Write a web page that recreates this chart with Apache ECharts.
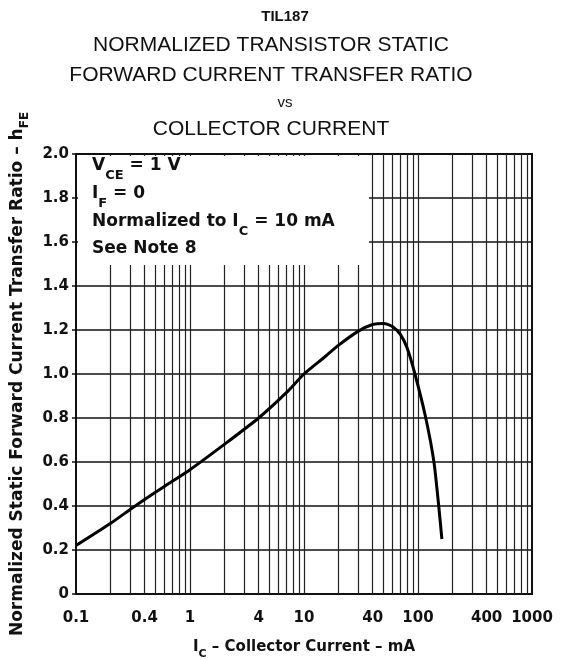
<!DOCTYPE html>
<html><head><meta charset="utf-8">
<script src="https://cdn.jsdelivr.net/npm/echarts@6/dist/echarts.min.js"></script>
<style>html,body{margin:0;padding:0;background:#fff}#c{width:564px;height:660px}</style>
</head><body><div id="c"></div>
<script>
// Collector current (mA) and normalized hFE
const collectorCurrent = [0.1, 0.2, 0.3, 0.4, 0.6, 1, 2, 4, 7, 10, 15, 20, 30, 40, 50, 60, 70, 80, 94, 117, 138, 152, 162];
const normalizedHFE   = [0.22, 0.32, 0.385, 0.43, 0.49, 0.565, 0.68, 0.80, 0.915, 1.00, 1.075, 1.13, 1.195, 1.225, 1.23, 1.215, 1.18, 1.12, 1.00, 0.80, 0.60, 0.40, 0.25];
// Axis tick labels
const xTickLabels = [0.1, 0.4, 1, 4, 10, 40, 100, 400, 1000];
const yTickValues = [0, 0.2, 0.4, 0.6, 0.8, 1.0, 1.2, 1.4, 1.6, 1.8, 2.0];
// Log grid lines (vertical)
const xGridLines = [0.2,0.3,0.4,0.5,0.6,0.7,0.8,0.9,1,2,3,4,5,6,7,8,9,10,20,30,40,50,60,70,80,90,100,200,300,400,500,600,700,800,900];
// Text
const titleLines = ['NORMALIZED TRANSISTOR STATIC', 'FORWARD CURRENT TRANSFER RATIO'];
const noteLines = ['V_CE = 1 V', 'I_F = 0', 'Normalized to I_C = 10 mA', 'See Note 8'];

const FONT = '"Liberation Sans", Arial, sans-serif';
const WIDE = '"DejaVu Sans", sans-serif';
const chart = echarts.init(document.getElementById('c'), null, {renderer: 'canvas'});

const curve = collectorCurrent.map((x, i) => [x, normalizedHFE[i]]);

const sub = {fontFamily: WIDE, fontSize: 11, fontWeight: 'bold', color: '#111', verticalAlign: 'bottom', padding: [0,0,-5,0]};
const subY = {fontFamily: WIDE, fontSize: 12, fontWeight: 'bold', color: '#111', verticalAlign: 'bottom', padding: [0,0,-5,0]};
const boxM = {fontFamily: WIDE, fontSize: 17, fontWeight: 'bold', fill: '#111'};
const boxS = {fontFamily: WIDE, fontSize: 13, fontWeight: 'bold', fill: '#111', padding: [0,0,-8,0], verticalAlign: 'bottom'};

const option = {
  backgroundColor: '#fff',
  animation: false,
  title: [
    {text: 'TIL187', left: 280, top: 4, textAlign: 'center',
     textStyle: {fontFamily: FONT, fontSize: 15, fontWeight: 'bold', color: '#111'}},
    {text: titleLines[0], left: 266, top: 30, textAlign: 'center',
     textStyle: {fontFamily: FONT, fontSize: 21, fontWeight: 'normal', color: '#111'}},
    {text: titleLines[1], left: 266, top: 60, textAlign: 'center',
     textStyle: {fontFamily: FONT, fontSize: 21, fontWeight: 'normal', color: '#111'}},
    {text: 'vs', left: 280, top: 90, textAlign: 'center',
     textStyle: {fontFamily: FONT, fontSize: 15, fontWeight: 'normal', color: '#111'}},
    {text: 'COLLECTOR CURRENT', left: 266, top: 114, textAlign: 'center',
     textStyle: {fontFamily: FONT, fontSize: 21, fontWeight: 'normal', color: '#111'}}
  ],
  grid: {left: 76, right: 32, top: 154, bottom: 66, outerBoundsMode: 'none', containLabel: false,
         show: true, borderColor: '#111', borderWidth: 2, backgroundColor: 'transparent'},
  xAxis: {
    type: 'log', logBase: 10, min: 0.1, max: 1000,
    axisLine: {show: true, lineStyle: {color: '#111', width: 2}},
    axisTick: {show: false},
    splitLine: {show: false},
    minorTick: {show: false},
    axisLabel: {
      customValues: xTickLabels,
      fontFamily: WIDE, fontSize: 15, fontWeight: 'bold', color: '#111', margin: 17,
      formatter: v => String(+(+v).toPrecision(6))
    },
    name: '{m|I}{s|C}{m| – Collector Current – mA}',
    nameLocation: 'middle', nameGap: 46,
    nameTextStyle: {rich: {m: {fontFamily: WIDE, fontSize: 15, fontWeight: 'bold', color: '#111'}, s: sub}}
  },
  yAxis: {
    type: 'value', min: 0, max: 2, interval: 0.2,
    axisLine: {show: true, lineStyle: {color: '#111', width: 2}},
    axisTick: {show: true, length: 4, lineStyle: {color: '#111', width: 1.5}},
    splitLine: {show: true, lineStyle: {color: '#111', width: 1.6}},
    axisLabel: {
      fontFamily: WIDE, fontSize: 15, fontWeight: 'bold', color: '#111', margin: 7,
      formatter: v => (v === 0 ? '0' : v.toFixed(1))
    },
    name: '{m|Normalized Static Forward Current Transfer Ratio – h}{s|FE}',
    nameLocation: 'middle', nameGap: 50, nameRotate: 90,
    nameTextStyle: {rich: {m: {fontFamily: WIDE, fontSize: 17, fontWeight: 'bold', color: '#111'}, s: subY}}
  },
  graphic: [
    {type: 'rect', z: 100, shape: {x: 78, y: 156, width: 291, height: 109}, style: {fill: '#fff'}},
    {type: 'text', z: 101, left: 92, top: 157, style: {
      text: '{m|V}{s|CE}{m| = 1 V}', rich: {m: boxM, s: boxS}}},
    {type: 'text', z: 101, left: 92, top: 185, style: {
      text: '{m|I}{s|F}{m| = 0}', rich: {m: boxM, s: boxS}}},
    {type: 'text', z: 101, left: 92, top: 213, style: {
      text: '{m|Normalized to I}{s|C}{m| = 10 mA}', rich: {m: boxM, s: boxS}}},
    {type: 'text', z: 101, left: 92, top: 240, style: {
      text: noteLines[3], font: 'bold 17px ' + WIDE, fill: '#111'}}
  ],
  series: [
    {
      type: 'line', data: [], silent: true,
      markLine: {
        silent: true, symbol: ['none', 'none'], animation: false,
        label: {show: false},
        lineStyle: {color: '#222', width: 1.2, type: 'solid'},
        data: xGridLines.map(v => ({xAxis: v}))
      }
    },
    {
      type: 'line', data: curve, smooth: 0.2, showSymbol: false, z: 5,
      lineStyle: {color: '#000', width: 3}
    }
  ]
};
chart.setOption(option);
</script></body></html>
